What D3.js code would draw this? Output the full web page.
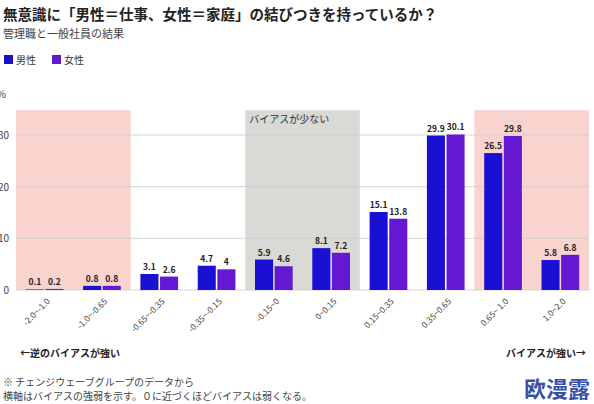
<!DOCTYPE html>
<html><head><meta charset="utf-8">
<script src="https://cdn.jsdelivr.net/npm/d3@7"></script>
<style>body{margin:0;background:#fff}text{font-family:"Noto Sans CJK JP",sans-serif}</style>
</head><body><svg id="c" width="594" height="404"></svg>
<script>
const categories = ["-2.0~-1.0","-1.0~-0.65","-0.65~-0.35","-0.35~-0.15","-0.15~0","0~0.15","0.15~0.35","0.35~0.65","0.65~ 1.0","1.0~2.0"]
const male = [0.1, 0.8, 3.1, 4.7, 5.9, 8.1, 15.1, 29.9, 26.5, 5.8]
const female = [0.2, 0.8, 2.6, 4, 4.6, 7.2, 13.8, 30.1, 29.8, 6.8]
const yTicks = [0, 10, 20, 30]
const seriesNames = ["男性", "女性"]
const colors = ["#1a10d4", "#6518d2"]

const svg = d3.select("#c")
const x = d3.scaleBand().domain(categories).range([16, 589]).paddingInner(0).paddingOuter(0)
const y = d3.scaleLinear().domain([0, 30]).range([290, 135])
const xs = d3.scaleBand().domain([0, 1]).range([0, x.bandwidth()]).paddingInner(0.08).paddingOuter(0.5)

// shaded zones
const zones = [
  { from: 0, to: 1, fill: "#f9d3ce" },
  { from: 4, to: 5, fill: "#d9d9d6" },
  { from: 8, to: 9, fill: "#f9d3ce" }
]
svg.append("g").selectAll("rect").data(zones).join("rect")
  .attr("x", d => x(categories[d.from]))
  .attr("width", d => x(categories[d.to]) + x.bandwidth() - x(categories[d.from]))
  .attr("y", y(34.8)).attr("height", y(0) - y(34.8))
  .attr("fill", d => d.fill)
svg.append("text").attr("x", x(categories[4]) + 4).attr("y", y(34.8) + 13)
  .attr("font-size", 10).attr("fill", "#333").text("バイアスが少ない")

// grid + y labels (cropped at left)
svg.append("g").selectAll("line").data(yTicks).join("line")
  .attr("x1", 16).attr("x2", 589).attr("y1", d => y(d)).attr("y2", d => y(d))
  .attr("stroke", "#ccc").attr("stroke-width", 0.8)
svg.append("g").selectAll("text").data(yTicks).join("text")
  .attr("x", 9).attr("y", d => y(d) + 4).attr("text-anchor", "end")
  .attr("font-size", 10).attr("fill", "#444").text(d => d)
svg.append("text").attr("x", 6).attr("y", 98).attr("text-anchor", "end")
  .attr("font-size", 10).attr("fill", "#444").text("%")

// bars
const series = [male, female]
series.forEach((vals, si) => {
  const g = svg.append("g")
  g.selectAll("rect").data(vals).join("rect")
    .attr("x", (d, i) => x(categories[i]) + xs(si))
    .attr("width", xs.bandwidth())
    .attr("y", d => y(d)).attr("height", d => y(0) - y(d))
    .attr("fill", colors[si])
  g.selectAll("text").data(vals).join("text")
    .attr("x", (d, i) => x(categories[i]) + xs(si) + xs.bandwidth() / 2)
    .attr("y", d => y(d) - 4).attr("text-anchor", "middle")
    .attr("font-size", 8.5).attr("font-weight", "bold").attr("fill", "#222")
    .text(d => d)
})

// x labels rotated
svg.append("g").selectAll("text").data(categories).join("text")
  .attr("transform", d => `translate(${x(d) + x.bandwidth() / 2 + 6},${302}) rotate(-45)`)
  .attr("text-anchor", "end").attr("font-size", 8.5).attr("fill", "#444").text(d => d)

// title, subtitle, legend
svg.append("text").attr("x", 3).attr("y", 20).attr("font-size", 14.5).attr("font-weight", "bold")
  .attr("fill", "#222").text("無意識に「男性＝仕事、女性＝家庭」の結びつきを持っているか？")
svg.append("text").attr("x", 3).attr("y", 38).attr("font-size", 11).attr("fill", "#444").text("管理職と一般社員の結果")
const leg = svg.append("g").selectAll("g").data(seriesNames).join("g")
  .attr("transform", (d, i) => `translate(${4 + i * 48},55)`)
leg.append("rect").attr("width", 9).attr("height", 9).attr("fill", (d, i) => colors[i])
leg.append("text").attr("x", 12).attr("y", 8.5).attr("font-size", 10).attr("fill", "#333").text(d => d)

// notes
svg.append("text").attr("x", 20).attr("y", 357).attr("font-size", 10).attr("font-weight", "bold").attr("fill", "#222").text("←逆のバイアスが強い")
svg.append("text").attr("x", 586).attr("y", 357).attr("text-anchor", "end").attr("font-size", 10).attr("font-weight", "bold").attr("fill", "#222").text("バイアスが強い→")
svg.append("text").attr("x", 3).attr("y", 386).attr("font-size", 10).attr("fill", "#444").text("※ チェンジウェーブグループのデータから")
svg.append("text").attr("x", 3).attr("y", 400).attr("font-size", 10).attr("fill", "#444").text("横軸はバイアスの強弱を示す。０に近づくほどバイアスは弱くなる。")
svg.append("text").attr("x", 590).attr("y", 397).attr("text-anchor", "end").attr("font-size", 22).attr("font-weight", "bold").attr("fill", "#3a4fa8").text("欧漫露")
</script></body></html>
